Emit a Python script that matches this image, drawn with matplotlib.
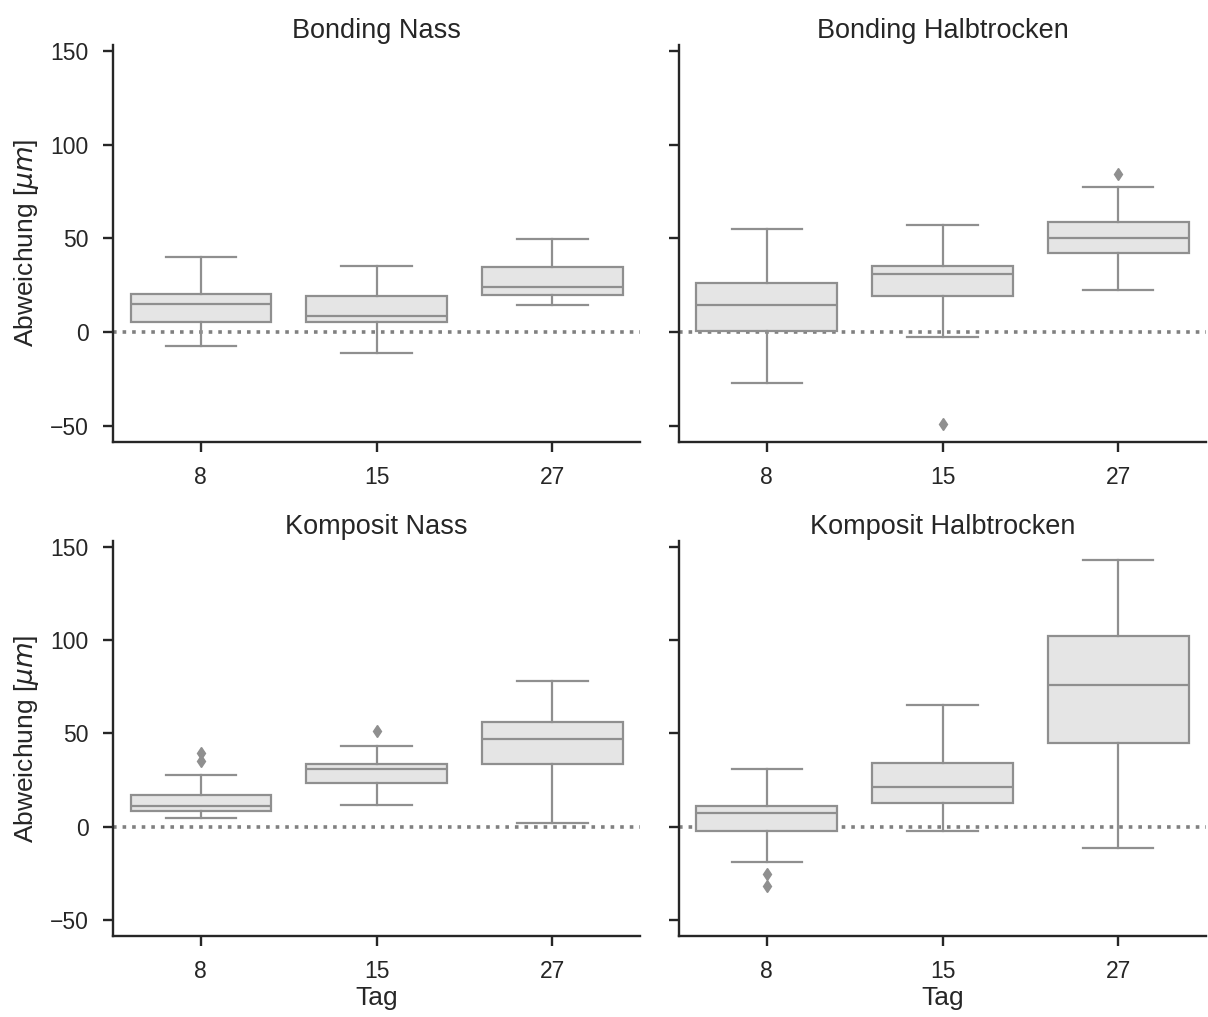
import numpy as np
import matplotlib.pyplot as plt

plt.rcParams['font.family'] = ['Liberation Sans', 'DejaVu Sans']
plt.rcParams['text.color'] = '#262626'
plt.rcParams['axes.labelcolor'] = '#262626'
plt.rcParams['xtick.color'] = '#262626'
plt.rcParams['ytick.color'] = '#262626'
plt.rcParams['axes.edgecolor'] = '#262626'

# facets and days
titles = ['Bonding Nass', 'Bonding Halbtrocken', 'Komposit Nass', 'Komposit Halbtrocken']
days = ['8', '15', '27']

# box statistics per facet, one entry per day
bn_whislo = [-7.3, -11.0, 14.5]
bn_q1 = [5.6, 5.2, 20.0]
bn_med = [15.1, 8.7, 24.3]
bn_q3 = [20.4, 19.5, 34.5]
bn_whishi = [40.0, 35.2, 49.8]
bn_fliers = [[], [], []]

bh_whislo = [-27.0, -2.9, 22.6]
bh_q1 = [0.7, 19.3, 42.0]
bh_med = [14.2, 30.9, 50.2]
bh_q3 = [26.1, 35.5, 58.6]
bh_whishi = [55.2, 57.3, 77.5]
bh_fliers = [[], [-48.9], [84.6]]

kn_whislo = [4.8, 11.9, 1.9]
kn_q1 = [8.7, 23.5, 33.4]
kn_med = [11.4, 31.0, 47.0]
kn_q3 = [17.1, 33.4, 55.9]
kn_whishi = [27.8, 43.4, 78.1]
kn_fliers = [[35.0, 39.3], [51.3], []]

kh_whislo = [-18.9, -2.3, -11.6]
kh_q1 = [-2.3, 12.6, 45.0]
kh_med = [7.6, 21.5, 76.1]
kh_q3 = [11.4, 34.0, 102.0]
kh_whishi = [31.0, 65.1, 143.1]
kh_fliers = [[-25.1, -31.9], [], []]

groups = [
    (bn_whislo, bn_q1, bn_med, bn_q3, bn_whishi, bn_fliers),
    (bh_whislo, bh_q1, bh_med, bh_q3, bh_whishi, bh_fliers),
    (kn_whislo, kn_q1, kn_med, kn_q3, kn_whishi, kn_fliers),
    (kh_whislo, kh_q1, kh_med, kh_q3, kh_whishi, kh_fliers),
]

line_col = '#8f8f8f'
face_col = '#e5e5e5'

fig = plt.figure(figsize=(12.08, 10.17), dpi=100)
pos = [
    [0.0935, 0.5657, 0.4365, 0.3901],
    [0.562, 0.5657, 0.4365, 0.3901],
    [0.0935, 0.0796, 0.4365, 0.3887],
    [0.562, 0.0796, 0.4365, 0.3887],
]
axes = []
for i in range(4):
    ax = fig.add_axes(pos[i], sharey=axes[0] if axes else None)
    axes.append(ax)

for i, ax in enumerate(axes):
    wlo, q1, med, q3, whi, fl = groups[i]
    stats = []
    for j in range(len(days)):
        stats.append(dict(whislo=wlo[j], q1=q1[j], med=med[j], q3=q3[j],
                          whishi=whi[j], fliers=fl[j]))
    ax.bxp(stats, positions=range(len(days)), widths=0.8, patch_artist=True,
           boxprops=dict(facecolor=face_col, edgecolor=line_col, linewidth=1.6),
           medianprops=dict(color=line_col, linewidth=1.6),
           whiskerprops=dict(color=line_col, linewidth=1.6),
           capprops=dict(color=line_col, linewidth=1.6),
           flierprops=dict(marker='d', markerfacecolor=line_col,
                           markeredgecolor=line_col, markersize=6))
    ax.axhline(0, color='#808080', linestyle=':', linewidth=2.6, zorder=0.5)
    ax.set_xlim(-0.5, 2.5)
    ax.set_xticks(range(len(days)))
    ax.set_xticklabels(days)
    ax.set_title(titles[i], fontsize=19.5, pad=5)
    ax.spines['top'].set_visible(False)
    ax.spines['right'].set_visible(False)
    for s in ['left', 'bottom']:
        ax.spines[s].set_linewidth(1.7)
    ax.tick_params(axis='both', labelsize=16.5, width=1.7, length=7.5,
                   pad=10, direction='out')
    ax.set_yticks([-50, 0, 50, 100, 150])
    if i % 2 == 0:
        ax.set_ylabel(r'Abweichung [$\mu m$]', fontsize=19, labelpad=6)
    else:
        ax.tick_params(axis='y', labelleft=False)
    if i >= 2:
        ax.set_xlabel('Tag', fontsize=19, labelpad=2)

axes[0].set_ylim(-58.5, 153.2)

fig.savefig('out.png', dpi=100)
